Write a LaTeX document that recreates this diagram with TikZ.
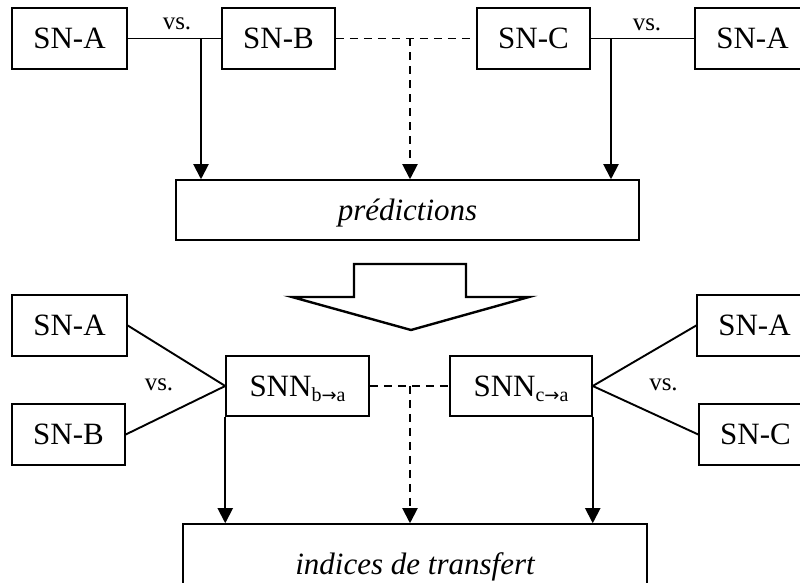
\documentclass[tikz,border=0pt]{standalone}
\usepackage{fontspec}
\setmainfont{Liberation Serif}
\newfontfamily\arrfont{DejaVu Sans}
\usetikzlibrary{arrows.meta}
\newcommand{\subarr}{{\arrfont\fontsize{9}{10}\selectfont →}}
\begin{document}
\begin{tikzpicture}[x=0.5pt,y=-0.5pt,
  box/.style={draw,line width=0.75pt,inner sep=0pt,font=\fontsize{15.5}{18}\selectfont,text height=10.2pt,text depth=0pt},
  vslabel/.style={inner sep=0pt,font=\fontsize{12.5}{14}\selectfont},
  conn/.style={line width=0.95pt},
  arr/.style={line width=0.95pt,-{Triangle[length=7.5pt,width=7.5pt]}},
  dsh/.style={dash pattern=on 4pt off 3pt}
]
\useasboundingbox (0,0) rectangle (800,583);
\clip (0,0) rectangle (800,583);
% top row
\node[box,minimum width=57.5pt,minimum height=30.5pt] (tA) at (69.5,38.5) {SN-A};
\node[box,minimum width=56.5pt,minimum height=30.5pt] (tB) at (278.5,38.5) {SN-B};
\node[box,minimum width=56.5pt,minimum height=30.5pt] (tC) at (533.5,38.5) {SN-C};
\node[box,minimum width=57.5pt,minimum height=30.5pt] (tA2) at (752.5,38.5) {SN-A};
\node[box,minimum width=231.5pt,minimum height=30pt] (pred) at (407.5,210) {\itshape prédictions};
\node[vslabel] (vs1) at (177,24) {vs.};
\node[vslabel] (vs2) at (647,25) {vs.};
\coordinate (jL) at (201,38.5);
\coordinate (jM) at (410,38.5);
\coordinate (jR) at (611,38.5);
\draw[conn] (tA.east) -- (tB.west);
\draw[conn] (tC.east) -- (tA2.west);
\draw[conn,dsh] (tB.east) -- (tC.west);
\draw[arr] (jL) -- (jL |- pred.north);
\draw[arr] (jR) -- (jR |- pred.north);
\draw[arr,dsh] (jM) -- (jM |- pred.north);
% big arrow
\draw[line width=1.2pt] (354,297) -- (354,264) -- (466,264) -- (466,297) -- (529,297) -- (411,330) -- (292,297) -- cycle;
% bottom part
\node[box,minimum width=57.5pt,minimum height=30.5pt] (bA) at (69.5,325.5) {SN-A};
\node[box,minimum width=56.5pt,minimum height=30.5pt] (bB) at (68.5,434.5) {SN-B};
\node[box,minimum width=71.5pt,minimum height=30pt] (snnb) at (297.5,386) {SNN\raisebox{-2.5pt}{\fontsize{10}{12}\selectfont b\subarr a}};
\node[box,minimum width=71pt,minimum height=30pt] (snnc) at (521,386) {SNN\raisebox{-2.5pt}{\fontsize{10}{12}\selectfont c\subarr a}};
\node[box,minimum width=57.5pt,minimum height=30.5pt] (bA2) at (754.5,325.5) {SN-A};
\node[box,minimum width=56.5pt,minimum height=30.5pt] (bC) at (755.5,434.5) {SN-C};
\node[box,minimum width=232pt,minimum height=40pt] (ind) at (415,564) {\itshape indices de transfert};
\node[vslabel] (vs3) at (159,385) {vs.};
\node[vslabel] (vs4) at (663.5,385) {vs.};
\coordinate (jB) at (410,386);
\draw[conn] (bA.east) -- (snnb.west) -- (bB.east);
\draw[conn] (bA2.west) -- (snnc.east) -- (bC.west);
\draw[conn,dsh] (snnb.east) -- (snnc.west);
\draw[arr] (snnb.south west) -- (snnb.south west |- ind.north);
\draw[arr] (snnc.south east) -- (snnc.south east |- ind.north);
\draw[arr,dsh] (jB) -- (jB |- ind.north);
\end{tikzpicture}
\end{document}
